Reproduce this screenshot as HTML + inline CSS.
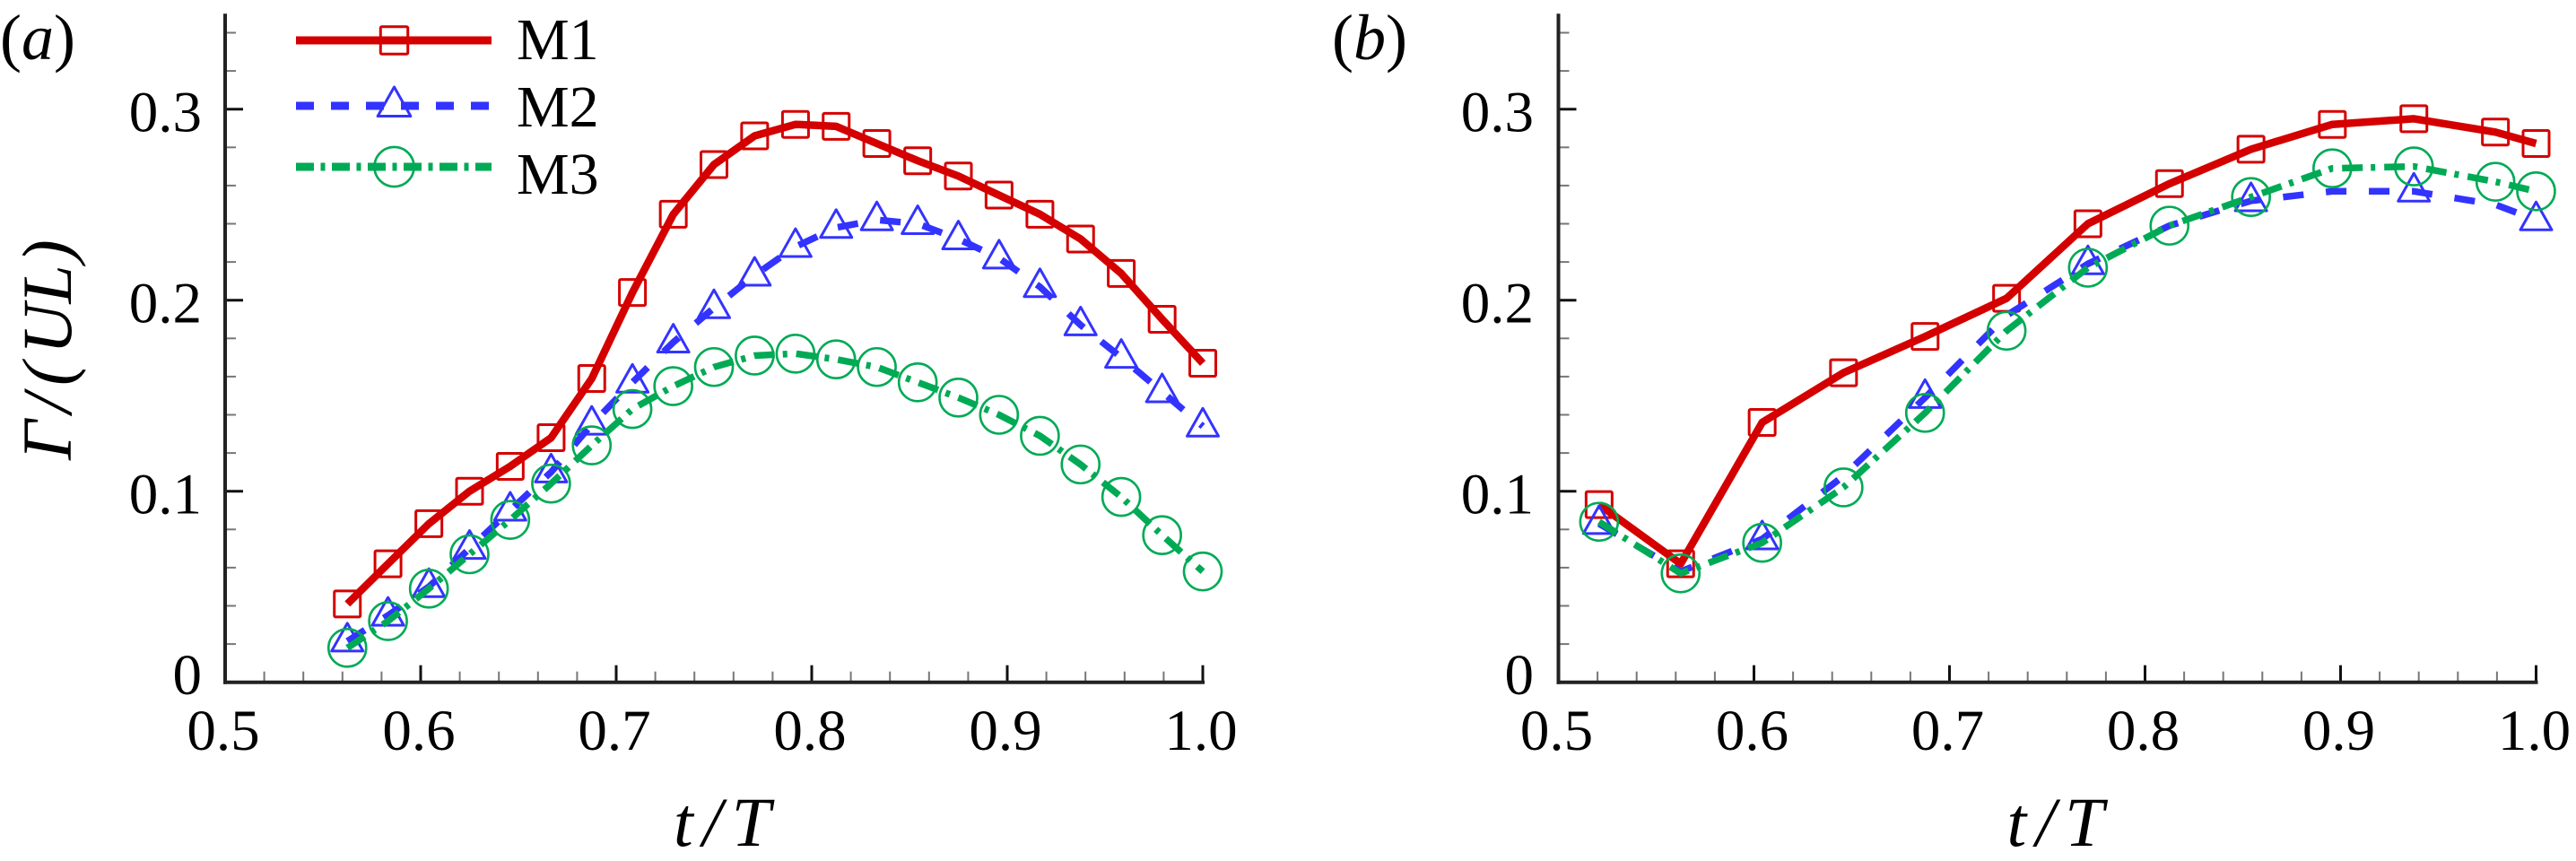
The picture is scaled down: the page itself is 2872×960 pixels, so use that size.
<!DOCTYPE html>
<html lang="en">
<head>
<meta charset="utf-8">
<title>Circulation versus time for M1, M2 and M3</title>
<style>
html,body{margin:0;padding:0;background:#fff;width:2872px;height:960px;overflow:hidden}
svg{display:block}
text{font-family:"Liberation Serif","Times New Roman",serif;fill:#000}
</style>
</head>
<body>
<svg id="fig" xmlns="http://www.w3.org/2000/svg" width="2872" height="960" viewBox="0 0 2872 960">
  <rect width="2872" height="960" fill="#fff"/>
  <g id="panel-a"></g>
  <g id="panel-b"></g>
  <text x="0" y="66" font-size="72">(<tspan font-style="italic">a</tspan>)</text>
  <text x="1485" y="66" font-size="72">(<tspan font-style="italic">b</tspan>)</text>
  <text transform="translate(79,513) rotate(-90)" font-size="78" font-style="italic">&#915;<tspan dx="8">/</tspan><tspan dx="9">(</tspan><tspan dx="9">U</tspan>L<tspan dx="2">)</tspan></text>
  <text x="751" y="943" font-size="78" font-style="italic" textLength="108" lengthAdjust="spacing">t/T</text>
  <text x="2237.5" y="943" font-size="78" font-style="italic" textLength="108" lengthAdjust="spacing">t/T</text>
  <g id="legend"></g>
</svg>
<script>
// ---------- data ----------
const xTickLabels = ["0.5", "0.6", "0.7", "0.8", "0.9", "1.0"];
const yTickLabels = ["0", "0.1", "0.2", "0.3"];
const seriesNames = ["M1", "M2", "M3"];

const timesA = [0.5625, 0.5833, 0.6042, 0.625, 0.6458, 0.6667, 0.6875, 0.7083, 0.7292, 0.75, 0.7708,
                0.7917, 0.8125, 0.8333, 0.8542, 0.875, 0.8958, 0.9167, 0.9375, 0.9583, 0.9792, 1.0];
const m1A = [0.041, 0.062, 0.083, 0.100, 0.113, 0.128, 0.159, 0.204, 0.245, 0.271, 0.286,
             0.292, 0.291, 0.282, 0.273, 0.265, 0.255, 0.245, 0.232, 0.214, 0.190, 0.167];
const m2A = [0.0215, 0.035, 0.050, 0.070, 0.090, 0.110, 0.135, 0.157, 0.178, 0.196, 0.213,
             0.228, 0.238, 0.242, 0.240, 0.232, 0.222, 0.207, 0.187, 0.170, 0.152, 0.134];
const m3A = [0.018, 0.032, 0.049, 0.067, 0.085, 0.104, 0.124, 0.143, 0.155, 0.165, 0.171,
             0.172, 0.169, 0.165, 0.157, 0.149, 0.140, 0.129, 0.114, 0.097, 0.077, 0.058];

const timesB = [0.5208, 0.5625, 0.6042, 0.6458, 0.6875, 0.7292, 0.7708, 0.8125, 0.8542, 0.8958, 0.9375, 0.9792, 1.0];
const m1B = [0.093, 0.062, 0.136, 0.162, 0.181, 0.201, 0.240, 0.261, 0.279, 0.292, 0.295, 0.288, 0.282];
const m2B = [0.083, 0.058, 0.075, 0.108, 0.149, 0.192, 0.219, 0.239, 0.252, 0.257, 0.257, 0.250, 0.242];
const m3B = [0.084, 0.057, 0.073, 0.102, 0.141, 0.184, 0.217, 0.239, 0.254, 0.269, 0.270, 0.262, 0.257];
// In panel b the M2 curve only shows a triangle on these sample indices.
const m2BMarkedSamples = [0, 2, 4, 6, 8, 10, 12];

// ---------- styling and axes ----------
const NS = "http://www.w3.org/2000/svg";
const RED = "#d40000", BLUE = "#3333ff", GREEN = "#00aa55";
const Y0 = 760.7, PX_PER_Y = 2130, X_SPAN = 2180;
const yPx = v => Y0 - v * PX_PER_Y;
const xScale = left => t => left + (t - 0.5) * X_SPAN;
const LEGEND_DASHES = ["", "20 19", "20 7.5 5 7.5"];
const CURVE_DASHES = ["", "23 25", "23 9 5 10"];
const COLORS = [RED, BLUE, GREEN];

function make(tag, parent, props) {
  const el = document.createElementNS(NS, tag);
  for (const k in props) el.setAttribute(k, props[k]);
  parent.appendChild(el);
  return el;
}

function drawMarker(parent, kind, cx, cy, s) {
  let el;
  if (kind === 0) {
    const h = 14.5 * s;
    el = make("rect", parent, {x: cx - h, y: cy - h, width: 2 * h, height: 2 * h, rx: 1.5, fill: "none", stroke: RED, "stroke-width": 3});
    
  } else if (kind === 1) {
    const pts = [[cx, cy - 20 * s], [cx - 17.5 * s, cy + 11 * s], [cx + 17.5 * s, cy + 11 * s]].map(p => p.join(",")).join(" ");
    el = make("polygon", parent, {points: pts, fill: "none", stroke: BLUE, "stroke-width": 3, "stroke-linejoin": "round"});
    
  } else {
    el = make("circle", parent, {cx: cx, cy: cy, r: 21 * s, fill: "none", stroke: GREEN, "stroke-width": 2.6});
    
  }
  
}

function drawAxes(g, left, x, yLabelRight) {
  const right = x(1);
  // minor ticks
  for (let i = 0; i <= 25; i++) {
    if (i % 5 === 0) continue;
    const px = x(0.5 + i * 0.02);
    const t = make("line", g, {x1: px, x2: px, y1: Y0, y2: Y0 - 12, stroke: "#777", "stroke-width": 2});
    
    
  }
  for (let i = 1; i <= 17; i++) {
    if (i % 5 === 0) continue;
    const py = yPx(i * 0.02);
    const t = make("line", g, {x1: left, x2: left + 12, y1: py, y2: py, stroke: "#777", "stroke-width": 2});
    
    
  }
  // major ticks and labels
  xTickLabels.forEach(label => {
    const v = parseFloat(label), px = x(v);
    const t = make("line", g, {x1: px, x2: px, y1: Y0, y2: Y0 - 19, stroke: "#111", "stroke-width": 3});
    
    
    const s = make("text", g, {x: px - 2, y: 836, "font-size": 65, "text-anchor": "middle"});
    s.textContent = label;
    
    
  });
  yTickLabels.forEach(label => {
    const v = parseFloat(label), py = yPx(v);
    const t = make("line", g, {x1: left, x2: left + 20, y1: py, y2: py, stroke: "#111", "stroke-width": 3});
    
    
    const s = make("text", g, {x: yLabelRight, y: v === 0 ? 774 : py + 25, "font-size": 65, "text-anchor": "end"});
    s.textContent = label;
    
    
  });
  // axis lines
  const yAxis = make("line", g, {x1: left, x2: left, y1: yPx(0.35), y2: Y0 + 2, stroke: "#222", "stroke-width": 4});
  
  
  const xAxis = make("line", g, {x1: left - 2, x2: right + 2, y1: Y0, y2: Y0, stroke: "#222", "stroke-width": 4});
  
  
}

function drawSeries(g, x, times, values, idx, marked) {
  const pts = times.map((t, i) => x(t).toFixed(1) + "," + yPx(values[i]).toFixed(1)).join(" ");
  const line = make("polyline", g, {points: pts, fill: "none", stroke: COLORS[idx], "stroke-width": idx === 0 ? 8.5 : 7.5, "stroke-linejoin": "round"});
  if (CURVE_DASHES[idx]) line.setAttribute("stroke-dasharray", CURVE_DASHES[idx]);
  
  
  times.forEach((t, i) => {
    if (!marked || marked.includes(i)) drawMarker(g, idx, x(t), yPx(values[i]), 1);
  });
}

function drawPanel(id, left, labelRight, times, all, markedBySeries) {
  const g = document.getElementById(id);
  const x = xScale(left);
  drawAxes(g, left, x, labelRight);
  all.forEach((vals, i) => drawSeries(g, x, times, vals, i, markedBySeries[i]));
}

drawPanel("panel-a", 251, 225, timesA, [m1A, m2A, m3A], [null, null, null]);
drawPanel("panel-b", 1737.5, 1710, timesB, [m1B, m2B, m3B], [null, m2BMarkedSamples, null]);

// ---------- legend ----------
const legend = document.getElementById("legend");
const legendLineY = [45, 118, 186];
const legendTextY = [66, 141, 216];
seriesNames.forEach((name, i) => {
  const l = make("line", legend, {x1: 330, x2: 548, y1: legendLineY[i], y2: legendLineY[i], stroke: COLORS[i], "stroke-width": 9});
  if (LEGEND_DASHES[i]) l.setAttribute("stroke-dasharray", LEGEND_DASHES[i]);
  
  
  drawMarker(legend, i, 439.5, legendLineY[i], 1.05);
  const s = make("text", legend, {x: 576, y: legendTextY[i], "font-size": 66});
  s.textContent = name;
  
  
});
</script>
</body>
</html>
